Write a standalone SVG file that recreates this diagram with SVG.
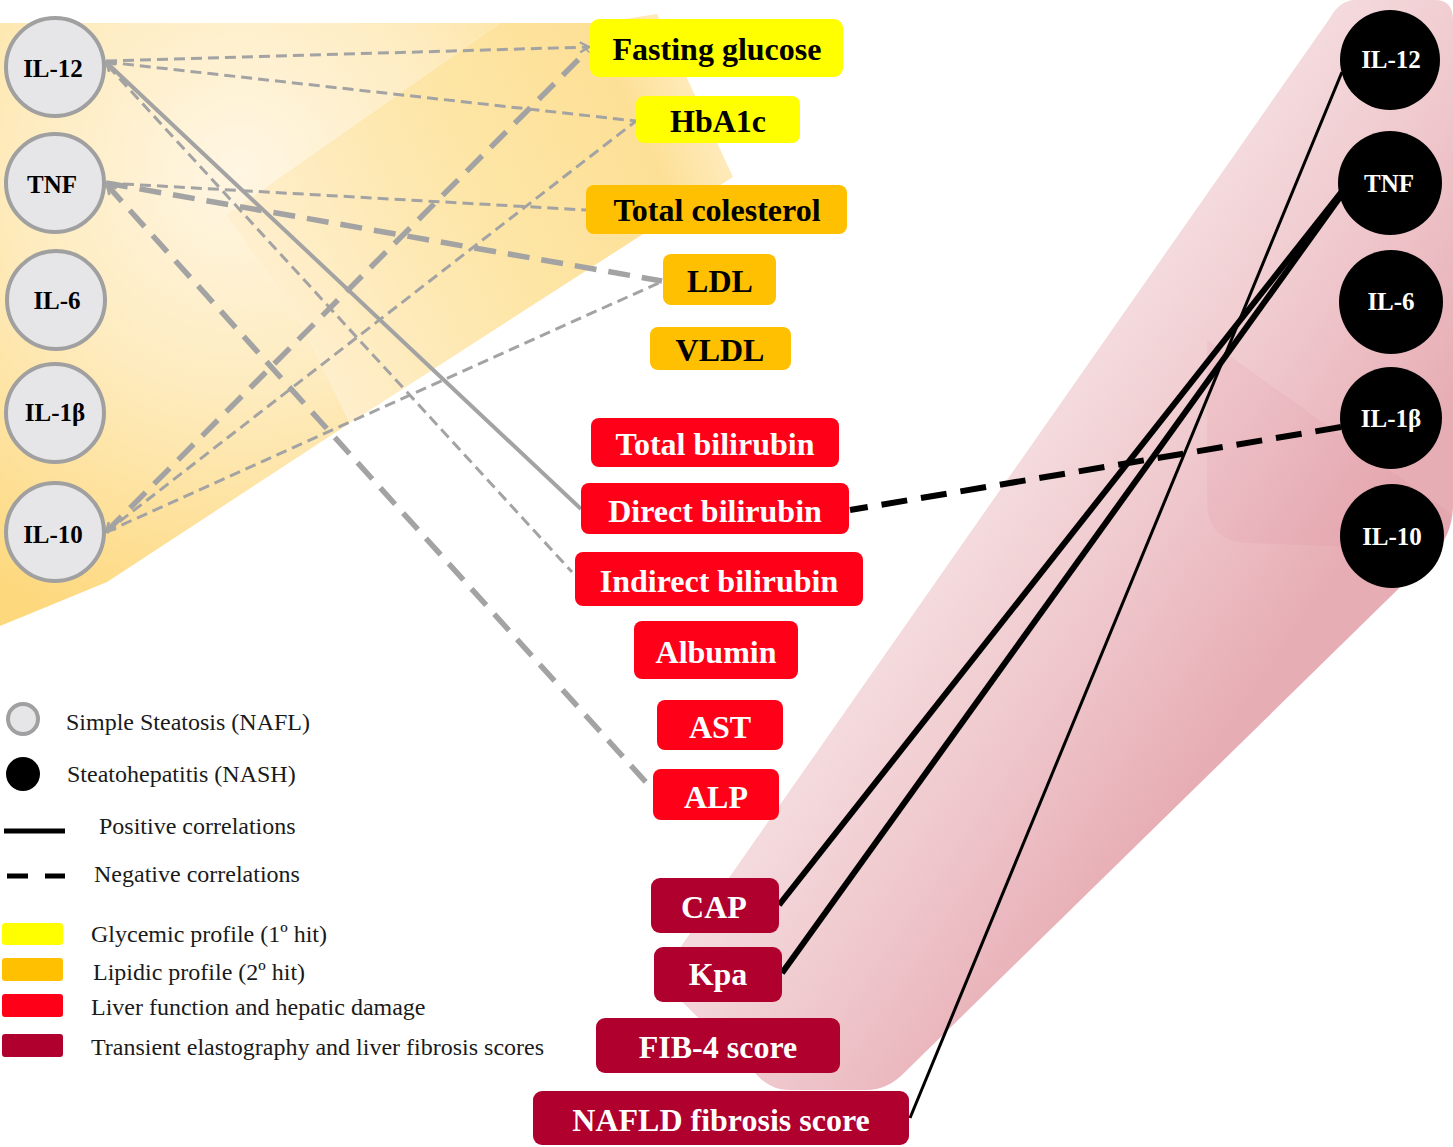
<svg xmlns="http://www.w3.org/2000/svg" width="1453" height="1147" viewBox="0 0 1453 1147">
<defs>
<style>
.lbl{font-family:"Liberation Serif","Times New Roman",serif;font-weight:bold;font-size:32px;text-anchor:middle}
.cl{font-family:"Liberation Serif","Times New Roman",serif;font-weight:bold;font-size:25px;text-anchor:middle}
.lg{font-family:"Liberation Serif","Times New Roman",serif;font-size:24px;fill:#1a1a1a}
.nafl{fill:#e6e6e8;stroke:#a0a0a0;stroke-width:4}
.nash{fill:#000}
.yel{fill:#ffff00}
.ora{fill:#fec000}
.red{fill:#ff0019}
.dred{fill:#b0002e}
.gthin{stroke:#a3a3a3;stroke-width:3;stroke-dasharray:11 6;fill:none}
.gthick{stroke:#a3a3a3;stroke-width:5.5;stroke-dasharray:22 12;fill:none}
.gsolid{stroke:#a3a3a3;stroke-width:4;fill:none}
.bsolid{stroke:#000;fill:none}
.bdash{stroke:#000;stroke-width:6;stroke-dasharray:26 14;fill:none}
</style>
<marker id="chev" viewBox="-1 -6 12 12" markerWidth="12" markerHeight="12" refX="9" refY="0" orient="auto-start-reverse" markerUnits="userSpaceOnUse">
<path d="M0,-5 L9,0 L0,5" fill="none" stroke="#a3a3a3" stroke-width="2.5"/>
</marker>
<radialGradient id="yL" gradientUnits="userSpaceOnUse" cx="240" cy="170" r="480">
<stop offset="0" stop-color="#fff6e3"/>
<stop offset="0.45" stop-color="#feecc0"/>
<stop offset="1" stop-color="#fdd87d"/>
</radialGradient>
<linearGradient id="yR" gradientUnits="userSpaceOnUse" x1="250" y1="300" x2="733" y2="80">
<stop offset="0" stop-color="#fff0d2"/>
<stop offset="0.45" stop-color="#fde6a8"/>
<stop offset="0.8" stop-color="#fde096"/>
<stop offset="1" stop-color="#fff0d0"/>
</linearGradient>
<linearGradient id="pk" gradientUnits="userSpaceOnUse" x1="743" y1="870" x2="1007" y2="1052">
<stop offset="0" stop-color="#f4dadd"/>
<stop offset="0.5" stop-color="#eec5ca"/>
<stop offset="1" stop-color="#e7adb4"/>
</linearGradient>
</defs>

<g id="background">
<path d="M0,23 L500,23 L226,215 L300,320 L350,423 L107,582 L0,626 Z" fill="url(#yL)"/>
<path d="M500,23 L600,23 L657,14 L733,177 L640,236 L350,423 L300,320 L226,215 Z" fill="url(#yR)"/>
<path d="M1355,0 L1435,0 Q1453,0 1453,20 L1453,505 Q1453,535 1432,556 L905,1072 Q888,1090 866,1090 L790,1090 Q770,1090 757,1075 L672,992 Q660,980 668,965 L1330,18 Q1340,0 1355,0 Z" fill="url(#pk)"/>
<path d="M1140,292 L1450,513 L1450,520 Q1450,538 1432,550 L1250,543 Q1207,543 1207,500 L1207,340 Z" fill="#d86a7a" opacity="0.08"/>
</g>

<g id="connectors">
<line class="gthin" x1="106" y1="61" x2="589" y2="47" marker-end="url(#chev)"/>
<line class="gthin" x1="106" y1="62" x2="636" y2="121"/>
<line class="gsolid" x1="106" y1="62" x2="581" y2="509" marker-start="url(#chev)"/>
<line class="gthin" x1="108" y1="66" x2="572" y2="572"/>
<line class="gthin" x1="106" y1="183" x2="586" y2="210"/>
<line class="gthick" x1="106" y1="183" x2="662" y2="281"/>
<line class="gthick" x1="107" y1="185" x2="653" y2="790" marker-start="url(#chev)"/>
<line class="gthick" x1="106" y1="532" x2="588" y2="50" marker-start="url(#chev)"/>
<line class="gthin" x1="106" y1="532" x2="636" y2="121"/>
<line class="gthin" x1="106" y1="532" x2="663" y2="281"/>
<line class="bsolid" stroke-width="3" x1="1342" y1="72" x2="910" y2="1118"/>
<line class="bsolid" stroke-width="6" x1="1343" y1="190" x2="779" y2="905"/>
<line class="bsolid" stroke-width="6" x1="1343" y1="193" x2="782" y2="973"/>
<line class="bdash" x1="1341" y1="427" x2="850" y2="510"/>
</g>

<g id="nafl-IL12"><circle class="nafl" cx="55" cy="67" r="49"/><text class="cl" x="53" y="77">IL-12</text></g>
<g id="nafl-TNF"><circle class="nafl" cx="55" cy="183" r="49"/><text class="cl" x="52" y="193">TNF</text></g>
<g id="nafl-IL6"><circle class="nafl" cx="56" cy="300" r="49"/><text class="cl" x="57" y="309">IL-6</text></g>
<g id="nafl-IL1b"><circle class="nafl" cx="55" cy="413" r="49"/><text class="cl" x="55" y="421">IL-1β</text></g>
<g id="nafl-IL10"><circle class="nafl" cx="55" cy="532" r="49"/><text class="cl" x="53" y="543">IL-10</text></g>

<g id="nash-IL12"><circle class="nash" cx="1390" cy="60" r="50"/><text class="cl" x="1391" y="68" fill="#fff" font-size="24">IL-12</text></g>
<g id="nash-TNF"><circle class="nash" cx="1390" cy="183" r="52"/><text class="cl" x="1389" y="192" fill="#fff" font-size="24">TNF</text></g>
<g id="nash-IL6"><circle class="nash" cx="1391" cy="302" r="52"/><text class="cl" x="1391" y="310" fill="#fff" font-size="24">IL-6</text></g>
<g id="nash-IL1b"><circle class="nash" cx="1391" cy="418" r="51"/><text class="cl" x="1391" y="427" fill="#fff" font-size="24">IL-1β</text></g>
<g id="nash-IL10"><circle class="nash" cx="1392" cy="536" r="52"/><text class="cl" x="1392" y="545" fill="#fff" font-size="24">IL-10</text></g>

<g id="fasting-glucose"><rect class="yel" x="590" y="19" width="253" height="58" rx="9"/><text class="lbl" x="717" y="60">Fasting glucose</text></g>
<g id="hba1c"><rect class="yel" x="636" y="96" width="164" height="47" rx="8"/><text class="lbl" x="718" y="132">HbA1c</text></g>
<g id="total-colesterol"><rect class="ora" x="586" y="185" width="261" height="49" rx="8"/><text class="lbl" x="717" y="221">Total colesterol</text></g>
<g id="ldl"><rect class="ora" x="663" y="254" width="113" height="51" rx="8"/><text class="lbl" x="720" y="292">LDL</text></g>
<g id="vldl"><rect class="ora" x="650" y="327" width="141" height="43" rx="8"/><text class="lbl" x="720" y="361">VLDL</text></g>
<g id="total-bilirubin"><rect class="red" x="591" y="418" width="248" height="49" rx="8"/><text class="lbl" x="715" y="455" fill="#fff">Total bilirubin</text></g>
<g id="direct-bilirubin"><rect class="red" x="581" y="483" width="268" height="51" rx="8"/><text class="lbl" x="715" y="522" fill="#fff">Direct bilirubin</text></g>
<g id="indirect-bilirubin"><rect class="red" x="575" y="552" width="288" height="54" rx="8"/><text class="lbl" x="719" y="592" fill="#fff">Indirect bilirubin</text></g>
<g id="albumin"><rect class="red" x="634" y="621" width="164" height="58" rx="8"/><text class="lbl" x="716" y="663" fill="#fff">Albumin</text></g>
<g id="ast"><rect class="red" x="657" y="700" width="126" height="50" rx="8"/><text class="lbl" x="720" y="738" fill="#fff">AST</text></g>
<g id="alp"><rect class="red" x="653" y="769" width="126" height="51" rx="8"/><text class="lbl" x="716" y="808" fill="#fff">ALP</text></g>
<g id="cap"><rect class="dred" x="651" y="878" width="128" height="55" rx="9"/><text class="lbl" x="714" y="918" fill="#fff">CAP</text></g>
<g id="kpa"><rect class="dred" x="654" y="947" width="128" height="55" rx="9"/><text class="lbl" x="718" y="985" fill="#fff">Kpa</text></g>
<g id="fib4"><rect class="dred" x="596" y="1018" width="244" height="55" rx="9"/><text class="lbl" x="718" y="1058" fill="#fff">FIB-4 score</text></g>
<g id="nafld-score"><rect class="dred" x="533" y="1091" width="376" height="54" rx="9"/><text class="lbl" x="721" y="1131" fill="#fff">NAFLD fibrosis score</text></g>

<g id="legend">
<circle class="nafl" cx="23" cy="719" r="15" stroke-width="2.5"/>
<text class="lg" x="66" y="730">Simple Steatosis (NAFL)</text>
<circle class="nash" cx="23" cy="774" r="17"/>
<text class="lg" x="67" y="782">Steatohepatitis (NASH)</text>
<line x1="4" y1="831" x2="65" y2="831" stroke="#000" stroke-width="5"/>
<text class="lg" x="99" y="834">Positive correlations</text>
<line x1="7" y1="876" x2="65" y2="876" stroke="#000" stroke-width="5" stroke-dasharray="21 17"/>
<text class="lg" x="94" y="882">Negative correlations</text>
<rect class="yel" x="2" y="923" width="61" height="22" rx="3"/>
<text class="lg" x="91" y="942">Glycemic profile (1º hit)</text>
<rect class="ora" x="2" y="958" width="61" height="23" rx="3"/>
<text class="lg" x="93" y="980">Lipidic profile (2º hit)</text>
<rect class="red" x="2" y="994" width="61" height="23" rx="3"/>
<text class="lg" x="91" y="1015">Liver function and hepatic damage</text>
<rect class="dred" x="2" y="1034" width="61" height="23" rx="3"/>
<text class="lg" x="91" y="1055">Transient elastography and liver fibrosis scores</text>
</g>
</svg>
